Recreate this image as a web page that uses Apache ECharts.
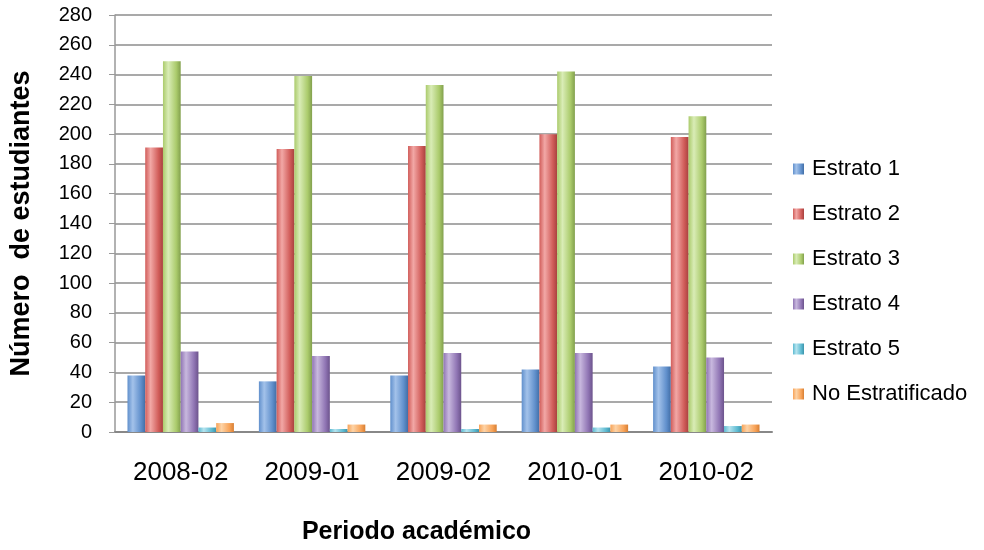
<!DOCTYPE html>
<html>
<head>
<meta charset="utf-8">
<script src="https://cdn.jsdelivr.net/npm/echarts@6/dist/echarts.min.js"></script>
<style>
  html, body { margin: 0; padding: 0; background: #fff; }
  #chart { width: 984px; height: 550px; }
</style>
</head>
<body>
<div id="chart"></div>
<script>
var periodos = ['2008-02', '2009-01', '2009-02', '2010-01', '2010-02'];
var estrato1 = [38, 34, 38, 42, 44];
var estrato2 = [191, 190, 192, 200, 198];
var estrato3 = [249, 239, 233, 242, 212];
var estrato4 = [54, 51, 53, 53, 50];
var estrato5 = [3, 2, 2, 3, 4];
var noEstratificado = [6, 5, 5, 5, 5];

var nombres = ['Estrato 1', 'Estrato 2', 'Estrato 3', 'Estrato 4', 'Estrato 5', 'No Estratificado'];
var valores = [estrato1, estrato2, estrato3, estrato4, estrato5, noEstratificado];
var colores = [
    ['#a3c2ea', '#6190cc', '#426ea6'],
    ['#f2a8a6', '#d15d5a', '#a8413e'],
    ['#d9ecb6', '#abcb6c', '#82a04d'],
    ['#c8b8de', '#9075b4', '#6c538c'],
    ['#b5e4ef', '#5dbad1', '#3c94ab'],
    ['#fdd3a6', '#f8a358', '#d77f34']
];
var fuente = 'Liberation Sans, Arial, sans-serif';

function relleno(c) {
    return new echarts.graphic.LinearGradient(0, 0, 1, 0, [
        { offset: 0, color: c[1] },
        { offset: 0.3, color: c[0] },
        { offset: 0.75, color: c[1] },
        { offset: 1, color: c[2] }
    ]);
}

var series = [];
for (var i = 0; i < nombres.length; i++) {
    series.push({
        name: nombres[i],
        type: 'bar',
        data: valores[i],
        barGap: '0%',
        barCategoryGap: '19%',
        itemStyle: { color: relleno(colores[i]) }
    });
}

var chart = echarts.init(document.getElementById('chart'));
chart.setOption({
    animation: false,
    color: colores.map(function (c) { return c[1]; }),
    grid: { left: 114, right: 212, top: 15, bottom: 117 },
    legend: {
        orient: 'vertical',
        left: 788,
        top: 153,
        itemWidth: 11,
        itemHeight: 11,
        itemGap: 23,
        icon: 'rect',
        textStyle: { fontFamily: fuente, fontSize: 22, color: '#000', padding: [0, 0, 0, 3] },
        data: nombres
    },
    xAxis: {
        type: 'category',
        data: periodos,
        name: 'Periodo académico',
        nameLocation: 'middle',
        nameGap: 88,
        nameTextStyle: { fontFamily: fuente, fontSize: 25, fontWeight: 'bold', color: '#000', padding: [0, 54, 0, 0] },
        axisLine: { lineStyle: { color: '#888', width: 2 } },
        axisTick: { show: false },
        axisLabel: { fontFamily: fuente, fontSize: 26, color: '#000', margin: 28 }
    },
    yAxis: {
        type: 'value',
        min: 0,
        max: 280,
        interval: 20,
        name: 'Número  de estudiantes',
        nameLocation: 'middle',
        nameGap: 80,
        nameTextStyle: { fontFamily: fuente, fontSize: 27, fontWeight: 'bold', color: '#000' },
        axisLine: { show: true, lineStyle: { color: '#999', width: 1.5 } },
        axisTick: { show: true, length: 6, lineStyle: { color: '#999' } },
        axisLabel: { fontFamily: fuente, fontSize: 20, color: '#000', margin: 23 },
        splitLine: { lineStyle: { color: '#8c8c8c', width: 1.5 } }
    },
    series: series
});
</script>
</body>
</html>
